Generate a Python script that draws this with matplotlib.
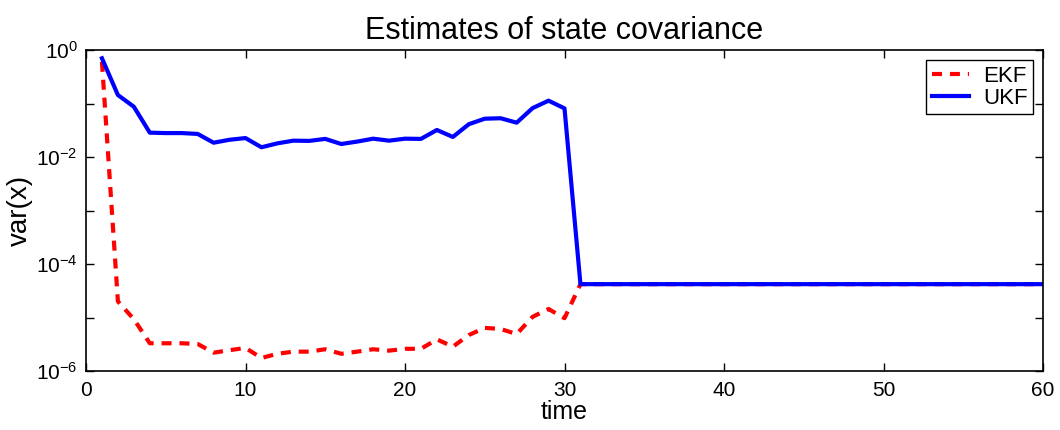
import numpy as np
import matplotlib
matplotlib.use("Agg")
import matplotlib.pyplot as plt
from matplotlib.ticker import FixedLocator, FuncFormatter

# values, one per time step 1..60
time = list(range(1, 61))
ekf = [0.6, 2.0e-5, 9.3e-6, 3.3e-6, 3.3e-6, 3.3e-6, 3.2e-6, 2.2e-6, 2.45e-6, 2.7e-6,
       1.75e-6, 2.1e-6, 2.3e-6, 2.3e-6, 2.55e-6, 2.1e-6, 2.3e-6, 2.55e-6, 2.4e-6, 2.6e-6,
       2.6e-6, 3.9e-6, 2.85e-6, 4.7e-6, 6.4e-6, 6.1e-6, 4.9e-6, 1.03e-5, 1.44e-5, 9.7e-6] \
      + [4.2e-5] * 30
ukf = [0.70, 0.144, 0.087, 0.0285, 0.028, 0.028, 0.027, 0.0185, 0.021, 0.0226,
       0.0152, 0.018, 0.0202, 0.020, 0.0218, 0.0175, 0.0194, 0.022, 0.0202, 0.022,
       0.0218, 0.032, 0.0237, 0.041, 0.052, 0.053, 0.0438, 0.082, 0.113, 0.081] \
      + [4.2e-5] * 30

plt.rcParams["font.family"] = ["Liberation Sans", "DejaVu Sans"]
plt.rcParams["mathtext.fontset"] = "custom"
plt.rcParams["mathtext.rm"] = "Liberation Sans"
plt.rcParams["mathtext.it"] = "Liberation Sans"
plt.rcParams["mathtext.bf"] = "Liberation Sans"

fig = plt.figure(figsize=(10.6, 4.3), dpi=100)
ax = fig.add_axes([86 / 1060, 1 - 371 / 430, (1043 - 86) / 1060, (371 - 50) / 430])

ax.plot(time, ekf, color="red", lw=3, dashes=(2.4, 1.9), label="EKF")
ax.plot(time, ukf, color="blue", lw=3, label="UKF")

ax.set_yscale("log")
ax.set_xlim(0, 60)
ax.set_ylim(1e-6, 1)
ax.set_xticks([0, 10, 20, 30, 40, 50, 60])
ax.yaxis.set_major_locator(FixedLocator([10.0 ** k for k in range(-6, 1)]))
ax.yaxis.set_minor_locator(FixedLocator([]))


def logfmt(v, pos):
    k = int(round(np.log10(v)))
    return r"$\mathrm{10^{%d}}$" % k if k % 2 == 0 else ""


ax.yaxis.set_major_formatter(FuncFormatter(logfmt))
ax.tick_params(direction="in", top=True, right=True, labelsize=15, length=6, width=1)
ax.tick_params(axis="x", pad=7)
ax.tick_params(axis="y", pad=6)
for s in ax.spines.values():
    s.set_linewidth(1.2)

ax.set_xlabel("time", fontsize=18, labelpad=0)
ax.set_ylabel("var(x)", fontsize=20, labelpad=2)
ax.set_title("Estimates of state covariance", fontsize=22, pad=8)

leg = ax.legend(loc="upper right", fontsize=16, fancybox=False, framealpha=1,
                edgecolor="black", handlelength=1.7, borderaxespad=0.45,
                borderpad=0.25, labelspacing=0.05, handletextpad=0.6)
leg.get_frame().set_linewidth(1)

fig.savefig("out.png", dpi=100)
